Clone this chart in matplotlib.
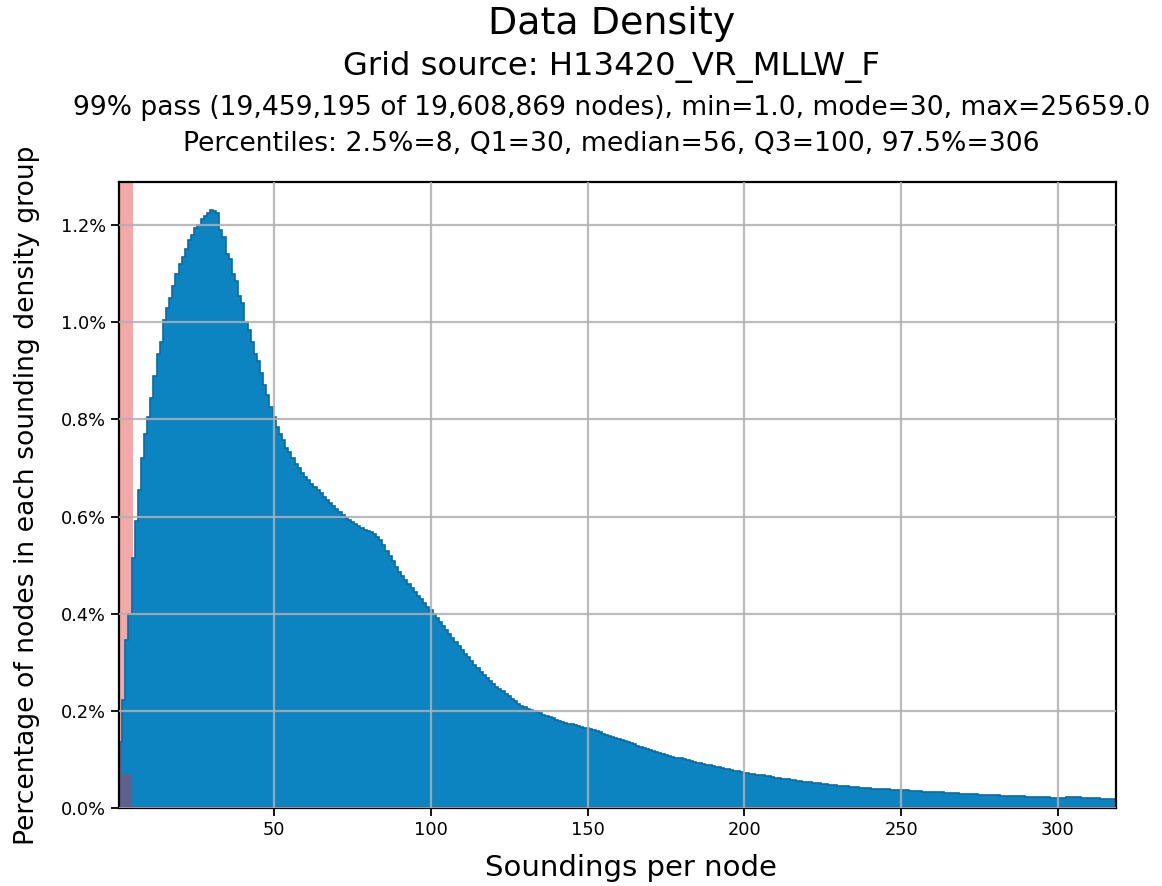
import numpy as np
import matplotlib
matplotlib.use("Agg")
import matplotlib.pyplot as plt
from matplotlib.ticker import PercentFormatter

# percentage of nodes per sounding count (1..318)
pct_nodes = [
    0.136, 0.222, 0.345, 0.400, 0.515, 0.590, 0.655, 0.720, 0.770, 0.805,
    0.845, 0.890, 0.935, 0.960, 1.005, 1.030, 1.050, 1.075, 1.100, 1.120,
    1.135, 1.150, 1.170, 1.180, 1.195, 1.200, 1.212, 1.218, 1.225, 1.231,
    1.229, 1.226, 1.190, 1.175, 1.140, 1.130, 1.100, 1.085, 1.055, 1.040,
    1.000, 0.985, 0.960, 0.935, 0.920, 0.895, 0.870, 0.850, 0.825, 0.805,
    0.785, 0.770, 0.758, 0.742, 0.732, 0.720, 0.709, 0.700, 0.690, 0.681,
    0.675, 0.668, 0.661, 0.655, 0.648, 0.641, 0.635, 0.629, 0.622, 0.615,
    0.609, 0.603, 0.598, 0.592, 0.588, 0.584, 0.580, 0.576, 0.573, 0.570,
    0.568, 0.564, 0.558, 0.551, 0.542, 0.530, 0.518, 0.508, 0.497, 0.486,
    0.478, 0.470, 0.462, 0.453, 0.444, 0.436, 0.430, 0.422, 0.414, 0.407,
    0.399, 0.391, 0.382, 0.374, 0.366, 0.358, 0.350, 0.341, 0.333, 0.325,
    0.318, 0.310, 0.302, 0.295, 0.288, 0.281, 0.274, 0.268, 0.262, 0.256,
    0.250, 0.245, 0.240, 0.235, 0.230, 0.225, 0.220, 0.215, 0.211, 0.207,
    0.204, 0.201, 0.199, 0.197, 0.195, 0.192, 0.190, 0.187, 0.185, 0.182,
    0.180, 0.178, 0.176, 0.174, 0.172, 0.170, 0.168, 0.167, 0.165, 0.164,
    0.162, 0.160, 0.158, 0.156, 0.153, 0.151, 0.149, 0.147, 0.145, 0.142,
    0.140, 0.138, 0.136, 0.133, 0.131, 0.128, 0.126, 0.124, 0.122, 0.120,
    0.118, 0.116, 0.114, 0.112, 0.110, 0.108, 0.106, 0.104, 0.104, 0.102,
    0.100, 0.098, 0.097, 0.095, 0.093, 0.092, 0.090, 0.089, 0.088, 0.086,
    0.085, 0.084, 0.082, 0.081, 0.080, 0.079, 0.077, 0.076, 0.075, 0.073,
    0.072, 0.071, 0.070, 0.069, 0.068, 0.067, 0.066, 0.065, 0.064, 0.062,
    0.061, 0.060, 0.060, 0.059, 0.058, 0.057, 0.056, 0.055, 0.054, 0.053,
    0.053, 0.052, 0.051, 0.051, 0.050, 0.049, 0.048, 0.048, 0.047, 0.046,
    0.046, 0.045, 0.045, 0.044, 0.043, 0.043, 0.042, 0.042, 0.041, 0.041,
    0.040, 0.040, 0.040, 0.039, 0.039, 0.039, 0.038, 0.038, 0.038, 0.038,
    0.037, 0.037, 0.036, 0.036, 0.035, 0.035, 0.034, 0.034, 0.033, 0.033,
    0.032, 0.032, 0.032, 0.031, 0.031, 0.030, 0.030, 0.030, 0.029, 0.029,
    0.029, 0.028, 0.028, 0.028, 0.027, 0.027, 0.027, 0.026, 0.026, 0.026,
    0.026, 0.025, 0.025, 0.025, 0.025, 0.025, 0.024, 0.024, 0.024, 0.023,
    0.023, 0.023, 0.023, 0.022, 0.022, 0.022, 0.022, 0.021, 0.021, 0.021,
    0.021, 0.021, 0.022, 0.022, 0.022, 0.022, 0.022, 0.021, 0.021, 0.020,
    0.020, 0.020, 0.020, 0.019, 0.019, 0.019, 0.019, 0.018,
]
# darker overlap at the bottom of the failing bins (1..4 soundings)
fail_overlap = [0.136, 0.070, 0.070, 0.070]
fail_limit = 5  # nodes with fewer soundings than this fail

title = "Data Density"
subtitle = "Grid source: H13420_VR_MLLW_F"
stats_line = "99% pass (19,459,195 of 19,608,869 nodes), min=1.0, mode=30, max=25659.0"
pct_line = "Percentiles: 2.5%=8, Q1=30, median=56, Q3=100, 97.5%=306"
x_ticks = [50, 100, 150, 200, 250, 300]
y_ticks = [0.0, 0.2, 0.4, 0.6, 0.8, 1.0, 1.2]

blue = "#0b84c1"
edge = "#0a6aa3"

vals = np.array(pct_nodes)
edges = np.arange(len(vals) + 1) + 0.5

fig = plt.figure(figsize=(11.62, 8.86), dpi=100)
ax = fig.add_axes([0.1024, 0.088, 0.858, 0.7066])

ax.axvspan(edges[0], fail_limit, color="#f4a9a9", zorder=0, lw=0)
ax.stairs(vals, edges, fill=True, color=blue, zorder=1)
ax.stairs(vals, edges, color=edge, lw=1.2, zorder=1.1)
fe = edges[:len(fail_overlap) + 1]
ax.stairs(fail_overlap, fe, fill=True, color="#6e5a86", alpha=0.85, zorder=1.2)

ax.set_xlim(edges[0], edges[-1])
ax.set_ylim(0, vals.max() * 1.047)
ax.set_xticks(x_ticks)
ax.set_yticks(y_ticks)
ax.yaxis.set_major_formatter(PercentFormatter(xmax=100, decimals=1))

ax.set_axisbelow(False)
ax.grid(True, color="#b0b0b0", lw=1.6, alpha=0.85)
for s in ax.spines.values():
    s.set_linewidth(1.6)
ax.tick_params(labelsize=12.8, length=6, width=1.3)

ax.set_xlabel("Soundings per node", fontsize=21)
ax.xaxis.set_label_coords(0.5135, -0.074)
ax.set_ylabel("Percentage of nodes in each sounding density group", fontsize=19.2, labelpad=15)

xc = 0.526
fig.text(xc, 0.973, title, ha="center", va="center", fontsize=27.4)
fig.text(xc, 0.924, subtitle, ha="center", va="center", fontsize=23.2)
fig.text(xc, 0.878, stats_line, ha="center", va="center", fontsize=19.1)
fig.text(xc, 0.837, pct_line, ha="center", va="center", fontsize=19.2)

fig.savefig("out.png", dpi=100)
